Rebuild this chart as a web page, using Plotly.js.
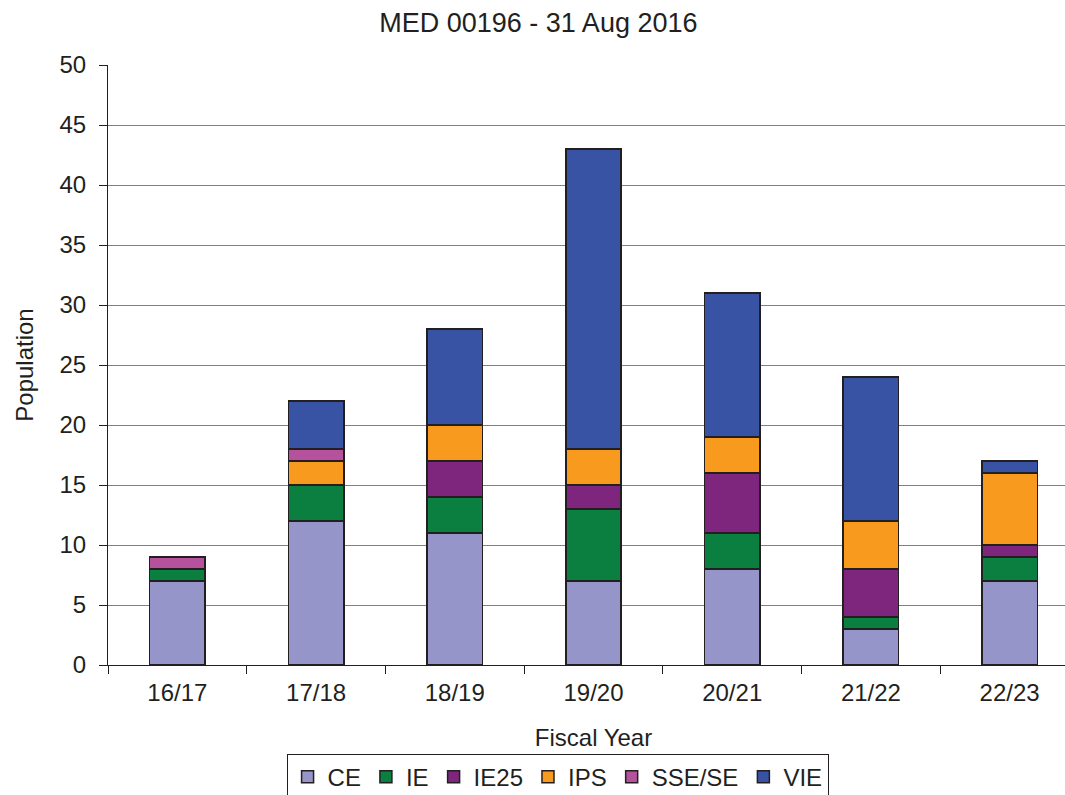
<!DOCTYPE html>
<html>
<head>
<meta charset="utf-8">
<script src="https://cdn.plot.ly/plotly-3.0.1.min.js"></script>
<style>
html,body{margin:0;padding:0;overflow:hidden;background:#fff;}
#chart{width:1080px;height:795px;}
</style>
</head>
<body>
<div id="chart"></div>
<script>
const years = ["16/17","17/18","18/19","19/20","20/21","21/22","22/23"];
const CE    = [7, 12, 11, 7, 8, 3, 7];
const IE    = [1, 3, 3, 6, 3, 1, 2];
const IE25  = [0, 0, 3, 2, 5, 4, 1];
const IPS   = [0, 2, 3, 3, 3, 4, 6];
const SSE   = [1, 1, 0, 0, 0, 0, 0];
const VIE   = [0, 4, 8, 25, 12, 12, 1];
const seriesNames = ["CE","IE","IE25","IPS","SSE/SE","VIE"];
const seriesValues = [CE, IE, IE25, IPS, SSE, VIE];
const colors = ["#9595C9","#0B7F3F","#7E267D","#F79A1E","#B6519D","#3853A4"];

const traces = seriesNames.map((n,i)=>({
  type:"bar", name:n, x:years, y:seriesValues[i],
  marker:{color:colors[i], line:{color:"#231F20", width:1.5}},
  width:0.4, hoverinfo:"x+y+name"
}));

const font = {family:"Liberation Sans, Arial, sans-serif", color:"#231F20", size:24};
const layout = {
  width:1080, height:795,
  barmode:"stack",
  margin:{l:108, r:1, t:65, b:130, autoexpand:false},
  paper_bgcolor:"#fff", plot_bgcolor:"#fff",
  font:font,
  title:{text:"MED 00196 - 31 Aug 2016", x:0.4985, xanchor:"center", y:0.972, yanchor:"middle", font:{...font, size:27}},
  xaxis:{
    title:{text:"Fiscal Year", font:font, standoff:24},
    showline:true, linecolor:"#231F20", linewidth:1,
    ticks:"outside", tickson:"boundaries", ticklen:8, tickcolor:"#231F20", ticklabelstandoff:6,
    tickfont:font, showgrid:false, zeroline:false, automargin:false
  },
  yaxis:{
    title:{text:"Population", font:font, standoff:19},
    range:[0,50], dtick:5, tick0:0,
    showline:true, linecolor:"#231F20", linewidth:1,
    ticks:"outside", ticklen:8, tickcolor:"#231F20", ticklabelstandoff:8,
    tickfont:font, showgrid:true, gridcolor:"#808080", gridwidth:1, zeroline:false, automargin:false
  },
  showlegend:true,
  legend:{
    orientation:"h", x:0.463, xanchor:"center", yref:"container", y:0.052, yanchor:"top",
    bordercolor:"#231F20", borderwidth:1, font:font, traceorder:"normal",
    itemwidth:30
  }
};
Plotly.newPlot("chart", traces, layout, {displayModeBar:false, staticPlot:true});
</script>
</body>
</html>
